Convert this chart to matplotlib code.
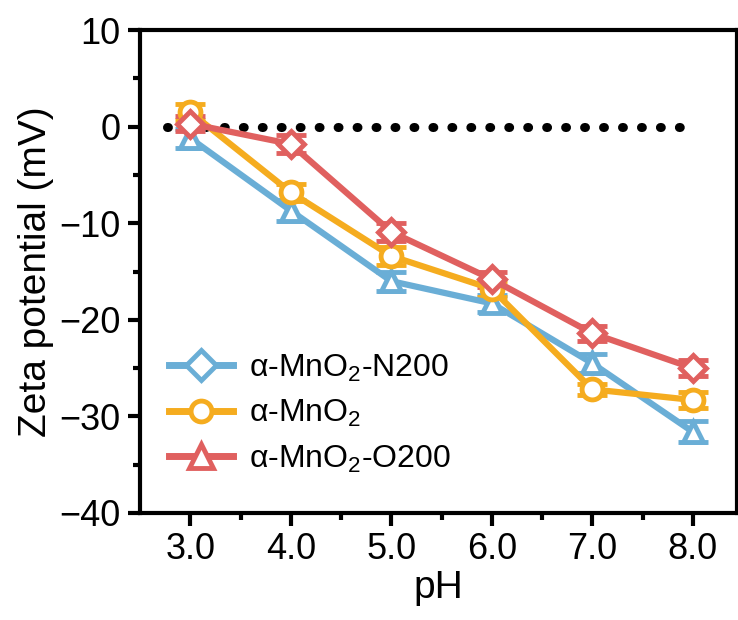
import numpy as np
import matplotlib
matplotlib.use("Agg")
import matplotlib.pyplot as plt
from matplotlib.lines import Line2D
from matplotlib.ticker import MultipleLocator

plt.rcParams['font.family'] = ['Liberation Sans', 'DejaVu Sans']
plt.rcParams['mathtext.fontset'] = 'custom'
plt.rcParams['mathtext.rm'] = 'Liberation Sans'
plt.rcParams['mathtext.it'] = 'Liberation Sans'

ph = [3.0, 4.0, 5.0, 6.0, 7.0, 8.0]
n200 = [-1.2, -8.7, -16.0, -18.3, -24.5, -31.6]
n200_err = [1.0, 1.1, 1.0, 0.9, 1.0, 1.1]
mno2 = [1.5, -6.8, -13.4, -16.8, -27.2, -28.3]
mno2_err = [0.8, 0.9, 0.9, 0.8, 0.6, 0.8]
o200 = [0.3, -1.8, -10.9, -15.8, -21.4, -25.0]
o200_err = [0.8, 0.9, 0.9, 0.8, 0.8, 0.8]

blue = '#6aaed6'
orange = '#f5ac1f'
red = '#e0605f'

fig = plt.figure(figsize=(7.38, 6.2), dpi=100)
ax = fig.add_axes([140/738, 1 - 513/620, 597/738, 483/620])

ax.plot([2.77, 8.0], [0, 0], color='black', linestyle=(0, (0.1, 2.0)),
        linewidth=6.5, dash_capstyle='round', zorder=1)

series = [
    (n200, n200_err, blue, '^'),
    (mno2, mno2_err, orange, 'o'),
    (o200, o200_err, red, 'D'),
]
for vals, err, col, mk in series:
    ax.errorbar(ph, vals, yerr=err, color=col, linewidth=4.5, marker=mk,
                markersize=15 if mk != 'D' else 13, markerfacecolor='white',
                markeredgewidth=3.5, capsize=11, capthick=3.5, elinewidth=3.5,
                zorder=3)

ax.set_xlim(2.5, 8.44)
ax.set_ylim(-40, 10)
ax.set_xticks(ph)
ax.set_xticklabels([f'{v:.1f}' for v in ph])
ax.xaxis.set_minor_locator(plt.FixedLocator([3.5, 4.5, 5.5, 6.5, 7.5]))
ax.yaxis.set_major_locator(MultipleLocator(10))
ax.yaxis.set_minor_locator(MultipleLocator(5))
ax.tick_params(which='major', length=9, width=3, labelsize=26, direction='out', pad=5)
ax.tick_params(which='minor', length=5, width=3, direction='out')
for s in ax.spines.values():
    s.set_linewidth(3)

ax.set_xlabel('pH', fontsize=28, labelpad=2)
ax.set_ylabel('Zeta potential (mV)', fontsize=28, labelpad=4)

handles = [
    Line2D([], [], color=blue, linewidth=5, marker='D', markersize=15,
           markerfacecolor='white', markeredgewidth=3.5),
    Line2D([], [], color=orange, linewidth=5, marker='o', markersize=15,
           markerfacecolor='white', markeredgewidth=3.5),
    Line2D([], [], color=red, linewidth=5, marker='^', markersize=17,
           markerfacecolor='white', markeredgewidth=3.5),
]
labels = [r'α-MnO$_2$-N200', r'α-MnO$_2$', r'α-MnO$_2$-O200']
ax.legend(handles, labels, loc='lower left', bbox_to_anchor=(0.0, 0.02),
          frameon=False, fontsize=23, handlelength=2.0, labelspacing=0.45,
          handletextpad=0.5)

fig.savefig('out.png', dpi=100)
